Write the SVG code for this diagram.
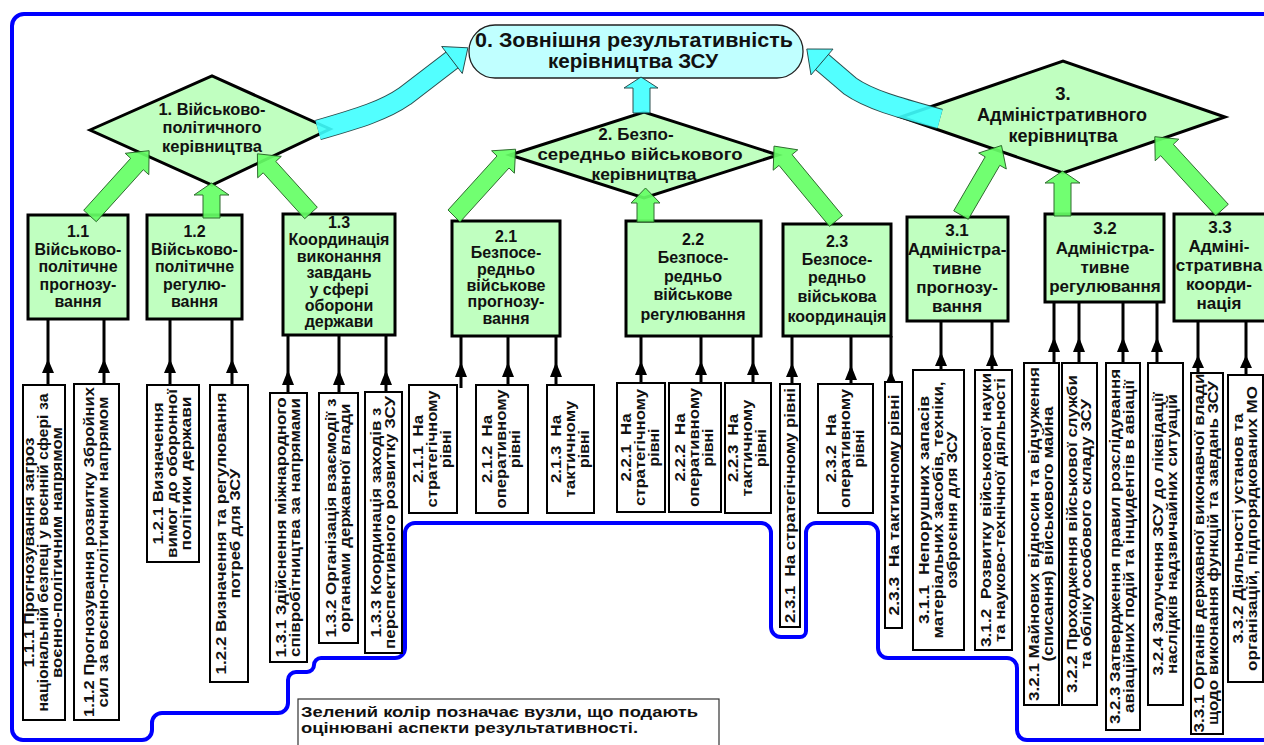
<svg xmlns="http://www.w3.org/2000/svg" width="1264" height="745" viewBox="0 0 1264 745">
<style>
text{font-family:"Liberation Sans",Arial,sans-serif;font-weight:bold;fill:#111;text-anchor:middle}
.blue{fill:none;stroke:#0000ff;stroke-width:4}
.n0{fill:#c0ffff;stroke:#222;stroke-width:1.3}
.dia{fill:#c0ffc0;stroke:#000;stroke-width:3}
.box{fill:#c0ffc0;stroke:#000;stroke-width:3}
.leaf{fill:#fff;stroke:#000;stroke-width:2}
.ln{stroke:#000;stroke-width:3}
.ah{fill:#000}
.ga{fill:#66ff66;stroke:#1f5f1f;stroke-width:1;opacity:0.92}
.ca{fill:#40ffff;stroke:#163c3c;stroke-width:1;opacity:0.9}
.cbo{fill:none;stroke:#163c3c;stroke-width:21}
.cbi{fill:none;stroke:#40ffff;stroke-width:19}
.t0{font-size:21px}
.td{font-size:17px}
.td3{font-size:18.5px}
.tb{font-size:16px}
.tb3{font-size:17px}
.lt{font-size:15px}
.lg{font-size:15.5px;text-anchor:start}
</style>

<path class="blue" d="M 1268,14 H 24 A 12 12 0 0 0 12,26 V 729 A 11 11 0 0 0 23,740 H 142 A 10 10 0 0 0 152,730 V 723 A 10 10 0 0 1 162,713 H 278 A 10 10 0 0 0 288,703 V 680 A 8 8 0 0 1 296,672 H 307 A 7 7 0 0 0 314,665 A 7 7 0 0 1 321,658 H 395 A 10 10 0 0 0 405,648 V 533 A 10 10 0 0 1 415,523 H 761 A 10 10 0 0 1 771,533 V 627 A 10 10 0 0 0 781,637 H 800 A 6 6 0 0 0 806,631 V 533 A 10 10 0 0 1 816,523 H 868 A 10 10 0 0 1 878,533 V 648 A 10 10 0 0 0 888,658 H 1007 A 10 10 0 0 1 1017,668 V 730 A 10 10 0 0 0 1027,740 H 1268"/>

<g id="connectors">
<path class="ln" d="M48,319V390M104,319V388M170,319V388M232,319V388M288,335V395M339,335V395M386,335V394M461,336V388M508,336V387M556,336V387M641,336V385M701,336V385M753,336V385M792,336V386M851,336V386M891,336V384M941,321V372M992,321V372M1054,302V365M1079,302V365M1123,302V365M1157,302V365M1198,321V375M1246,321V377"/>
<path class="ah" d="M48,359l-6,14h12zM104,359l-6,14h12zM170,359l-6,14h12zM232,359l-6,14h12zM288,370l-6,15h12zM339,370l-6,15h12zM386,370l-6,15h12zM461,362l-6,15h12zM508,362l-6,15h12zM556,362l-6,15h12zM641,361l-6,14h12zM701,361l-6,14h12zM753,361l-6,14h12zM792,363l-6,14h12zM851,365l-6,15h12zM891,371l-6,14h12zM941,352l-6,14h12zM992,352l-6,14h12zM1054,337l-6,15h12zM1079,337l-6,15h12zM1123,337l-6,15h12zM1157,337l-6,15h12zM1198,355l-6,13h12zM1246,355l-6,13h12z"/>
</g>

<g id="n111"><rect class="leaf" x="23" y="385" width="42" height="335"/>
<text class="lt" transform="translate(44,552.5) rotate(-90)" y="-10" textLength="230" lengthAdjust="spacingAndGlyphs">1.1.1 Прогнозування загроз</text>
<text class="lt" transform="translate(44,552.5) rotate(-90)" y="4" textLength="318" lengthAdjust="spacingAndGlyphs">національній безпеці у воєнній сфері за</text>
<text class="lt" transform="translate(44,552.5) rotate(-90)" y="18" textLength="251" lengthAdjust="spacingAndGlyphs">воєнно-політичним напрямом</text></g>
<g id="n112"><rect class="leaf" x="74" y="384" width="45" height="336"/>
<text class="lt" transform="translate(96.5,552) rotate(-90)" y="-3" textLength="330" lengthAdjust="spacingAndGlyphs">1.1.2 Прогнозування розвитку Збройних</text>
<text class="lt" transform="translate(96.5,552) rotate(-90)" y="11" textLength="311" lengthAdjust="spacingAndGlyphs">сил за воєнно-політичним напрямом</text></g>
<g id="n121"><rect class="leaf" x="147" y="385" width="52" height="177"/>
<text class="lt" transform="translate(173,473.5) rotate(-90)" y="-10" textLength="142" lengthAdjust="spacingAndGlyphs">1.2.1 Визначення</text>
<text class="lt" transform="translate(173,473.5) rotate(-90)" y="4" textLength="169" lengthAdjust="spacingAndGlyphs">вимог до оборонної</text>
<text class="lt" transform="translate(173,473.5) rotate(-90)" y="18" textLength="154" lengthAdjust="spacingAndGlyphs">політики держави</text></g>
<g id="n122"><rect class="leaf" x="210" y="385" width="38" height="297"/>
<text class="lt" transform="translate(229,533.5) rotate(-90)" y="-3" textLength="282" lengthAdjust="spacingAndGlyphs">1.2.2 Визначення та регулювання</text>
<text class="lt" transform="translate(229,533.5) rotate(-90)" y="11" textLength="130" lengthAdjust="spacingAndGlyphs">потреб для ЗСУ</text></g>
<g id="n131"><rect class="leaf" x="270" y="393" width="37" height="269"/>
<text class="lt" transform="translate(288.5,527.5) rotate(-90)" y="-3" textLength="260" lengthAdjust="spacingAndGlyphs">1.3.1 Здійснення міжнародного</text>
<text class="lt" transform="translate(288.5,527.5) rotate(-90)" y="11" textLength="259" lengthAdjust="spacingAndGlyphs">співробітництва за напрямами</text></g>
<g id="n132"><rect class="leaf" x="319" y="393" width="39" height="250"/>
<text class="lt" transform="translate(338.5,518) rotate(-90)" y="-3" textLength="239" lengthAdjust="spacingAndGlyphs">1.3.2 Організація взаємодії з</text>
<text class="lt" transform="translate(338.5,518) rotate(-90)" y="11" textLength="229" lengthAdjust="spacingAndGlyphs">органами державної влади</text></g>
<g id="n133"><rect class="leaf" x="365" y="392" width="37" height="261"/>
<text class="lt" transform="translate(383.5,522.5) rotate(-90)" y="-3" textLength="230" lengthAdjust="spacingAndGlyphs">1.3.3 Координація заходів з</text>
<text class="lt" transform="translate(383.5,522.5) rotate(-90)" y="11" textLength="253" lengthAdjust="spacingAndGlyphs">перспективного розвитку ЗСУ</text></g>
<g id="n211"><rect class="leaf" x="409" y="385" width="48" height="128"/>
<text class="lt" transform="translate(433,449) rotate(-90)" y="-10" textLength="68" lengthAdjust="spacingAndGlyphs">2.1.1&#160; На</text>
<text class="lt" transform="translate(433,449) rotate(-90)" y="4" textLength="117" lengthAdjust="spacingAndGlyphs">стратегічному</text>
<text class="lt" transform="translate(433,449) rotate(-90)" y="18" textLength="38" lengthAdjust="spacingAndGlyphs">рівні</text></g>
<g id="n212"><rect class="leaf" x="476" y="385" width="52" height="128"/>
<text class="lt" transform="translate(502,449) rotate(-90)" y="-10" textLength="68" lengthAdjust="spacingAndGlyphs">2.1.2&#160; На</text>
<text class="lt" transform="translate(502,449) rotate(-90)" y="4" textLength="119" lengthAdjust="spacingAndGlyphs">оперативному</text>
<text class="lt" transform="translate(502,449) rotate(-90)" y="18" textLength="38" lengthAdjust="spacingAndGlyphs">рівні</text></g>
<g id="n213"><rect class="leaf" x="547" y="385" width="47" height="128"/>
<text class="lt" transform="translate(570.5,449) rotate(-90)" y="-10" textLength="68" lengthAdjust="spacingAndGlyphs">2.1.3&#160; На</text>
<text class="lt" transform="translate(570.5,449) rotate(-90)" y="4" textLength="97" lengthAdjust="spacingAndGlyphs">тактичному</text>
<text class="lt" transform="translate(570.5,449) rotate(-90)" y="18" textLength="38" lengthAdjust="spacingAndGlyphs">рівні</text></g>
<g id="n221"><rect class="leaf" x="617" y="383" width="48" height="129"/>
<text class="lt" transform="translate(641,447.5) rotate(-90)" y="-10" textLength="68" lengthAdjust="spacingAndGlyphs">2.2.1&#160; На</text>
<text class="lt" transform="translate(641,447.5) rotate(-90)" y="4" textLength="117" lengthAdjust="spacingAndGlyphs">стратегічному</text>
<text class="lt" transform="translate(641,447.5) rotate(-90)" y="18" textLength="38" lengthAdjust="spacingAndGlyphs">рівні</text></g>
<g id="n222"><rect class="leaf" x="669" y="383" width="52" height="129"/>
<text class="lt" transform="translate(695,447.5) rotate(-90)" y="-10" textLength="68" lengthAdjust="spacingAndGlyphs">2.2.2&#160; На</text>
<text class="lt" transform="translate(695,447.5) rotate(-90)" y="4" textLength="119" lengthAdjust="spacingAndGlyphs">оперативному</text>
<text class="lt" transform="translate(695,447.5) rotate(-90)" y="18" textLength="38" lengthAdjust="spacingAndGlyphs">рівні</text></g>
<g id="n223"><rect class="leaf" x="725" y="383" width="46" height="130"/>
<text class="lt" transform="translate(748,448) rotate(-90)" y="-10" textLength="68" lengthAdjust="spacingAndGlyphs">2.2.3&#160; На</text>
<text class="lt" transform="translate(748,448) rotate(-90)" y="4" textLength="97" lengthAdjust="spacingAndGlyphs">тактичному</text>
<text class="lt" transform="translate(748,448) rotate(-90)" y="18" textLength="38" lengthAdjust="spacingAndGlyphs">рівні</text></g>
<g id="n231"><rect class="leaf" x="780" y="384" width="20" height="243"/>
<text class="lt" transform="translate(790,505.5) rotate(-90)" y="5" textLength="235" lengthAdjust="spacingAndGlyphs">2.3.1&#160; На стратегічному рівні</text></g>
<g id="n232"><rect class="leaf" x="818" y="384" width="55" height="129"/>
<text class="lt" transform="translate(845.5,448.5) rotate(-90)" y="-10" textLength="68" lengthAdjust="spacingAndGlyphs">2.3.2&#160; На</text>
<text class="lt" transform="translate(845.5,448.5) rotate(-90)" y="4" textLength="119" lengthAdjust="spacingAndGlyphs">оперативному</text>
<text class="lt" transform="translate(845.5,448.5) rotate(-90)" y="18" textLength="38" lengthAdjust="spacingAndGlyphs">рівні</text></g>
<g id="n233"><rect class="leaf" x="885" y="382" width="17" height="246"/>
<text class="lt" transform="translate(893.5,505) rotate(-90)" y="5" textLength="221" lengthAdjust="spacingAndGlyphs">2.3.3&#160; На тактичному рівні</text></g>
<g id="n311"><rect class="leaf" x="913" y="370" width="51" height="280"/>
<text class="lt" transform="translate(938.5,510) rotate(-90)" y="-10" textLength="228" lengthAdjust="spacingAndGlyphs">3.1.1&#160; Непорушних запасів</text>
<text class="lt" transform="translate(938.5,510) rotate(-90)" y="4" textLength="257" lengthAdjust="spacingAndGlyphs">матеріальних засобів, техніки,</text>
<text class="lt" transform="translate(938.5,510) rotate(-90)" y="18" textLength="157" lengthAdjust="spacingAndGlyphs">озброєння для ЗСУ</text></g>
<g id="n312"><rect class="leaf" x="975" y="370" width="37" height="280"/>
<text class="lt" transform="translate(993.5,510) rotate(-90)" y="-3" textLength="274" lengthAdjust="spacingAndGlyphs">3.1.2&#160; Розвитку військової науки</text>
<text class="lt" transform="translate(993.5,510) rotate(-90)" y="11" textLength="264" lengthAdjust="spacingAndGlyphs">та науково-технічної діяльності</text></g>
<g id="n321"><rect class="leaf" x="1024" y="363" width="35" height="342"/>
<text class="lt" transform="translate(1041.5,534) rotate(-90)" y="-3" textLength="334" lengthAdjust="spacingAndGlyphs">3.2.1 Майнових відносин та відчуження</text>
<text class="lt" transform="translate(1041.5,534) rotate(-90)" y="11" textLength="255" lengthAdjust="spacingAndGlyphs">(списання) військового майна</text></g>
<g id="n322"><rect class="leaf" x="1062" y="363" width="35" height="342"/>
<text class="lt" transform="translate(1079.5,534) rotate(-90)" y="-3" textLength="318" lengthAdjust="spacingAndGlyphs">3.2.2 Проходження військової служби</text>
<text class="lt" transform="translate(1079.5,534) rotate(-90)" y="11" textLength="270" lengthAdjust="spacingAndGlyphs">та обліку особового складу ЗСУ</text></g>
<g id="n323"><rect class="leaf" x="1106" y="363" width="34" height="367"/>
<text class="lt" transform="translate(1123,546.5) rotate(-90)" y="-3" textLength="355" lengthAdjust="spacingAndGlyphs">3.2.3 Затвердження правил розслідування</text>
<text class="lt" transform="translate(1123,546.5) rotate(-90)" y="11" textLength="333" lengthAdjust="spacingAndGlyphs">авіаційних подій та інцидентів в авіації</text></g>
<g id="n324"><rect class="leaf" x="1148" y="363" width="35" height="342"/>
<text class="lt" transform="translate(1165.5,534) rotate(-90)" y="-3" textLength="283" lengthAdjust="spacingAndGlyphs">3.2.4 Залучення ЗСУ до ліквідації</text>
<text class="lt" transform="translate(1165.5,534) rotate(-90)" y="11" textLength="280" lengthAdjust="spacingAndGlyphs">наслідків надзвичайних ситуацій</text></g>
<g id="n331"><rect class="leaf" x="1191" y="373" width="32" height="361"/>
<text class="lt" transform="translate(1207,553) rotate(-90)" y="-3" textLength="359" lengthAdjust="spacingAndGlyphs">3.3.1 Органів державної виконавчої влади</text>
<text class="lt" transform="translate(1207,553) rotate(-90)" y="11" textLength="344" lengthAdjust="spacingAndGlyphs">щодо виконання функцій та завдань ЗСУ</text></g>
<g id="n332"><rect class="leaf" x="1228" y="375" width="35" height="307"/>
<text class="lt" transform="translate(1245.5,528.5) rotate(-90)" y="-3" textLength="230" lengthAdjust="spacingAndGlyphs">3.3.2 Діяльності установ та</text>
<text class="lt" transform="translate(1245.5,528.5) rotate(-90)" y="11" textLength="285" lengthAdjust="spacingAndGlyphs">організацій, підпорядкованих МО</text></g>

<g id="n11"><rect class="box" x="28" y="215" width="100" height="104"/><text class="tb"><tspan x="78" y="237">1.1</tspan><tspan x="78" y="255">Військово-</tspan><tspan x="78" y="272">політичне</tspan><tspan x="78" y="290">прогнозу-</tspan><tspan x="78" y="307">вання</tspan></text></g>
<g id="n12"><rect class="box" x="147" y="215" width="95" height="104"/><text class="tb"><tspan x="194.5" y="237">1.2</tspan><tspan x="194.5" y="255">Військово-</tspan><tspan x="194.5" y="272">політичне</tspan><tspan x="194.5" y="290">регулю-</tspan><tspan x="194.5" y="307">вання</tspan></text></g>
<g id="n13"><rect class="box" x="283" y="214" width="112" height="121"/><text class="tb"><tspan x="339" y="228">1.3</tspan><tspan x="339" y="245">Координація</tspan><tspan x="339" y="262">виконання</tspan><tspan x="339" y="278">завдань</tspan><tspan x="339" y="295">у сфері</tspan><tspan x="339" y="311">оборони</tspan><tspan x="339" y="327">держави</tspan></text></g>
<g id="n21"><rect class="box" x="452" y="221" width="108" height="115"/><text class="tb"><tspan x="506" y="242">2.1</tspan><tspan x="506" y="258">Безпосе-</tspan><tspan x="506" y="275">редньо</tspan><tspan x="506" y="291">військове</tspan><tspan x="506" y="307">прогнозу-</tspan><tspan x="506" y="324">вання</tspan></text></g>
<g id="n22"><rect class="box" x="626" y="221" width="135" height="115"/><text class="tb"><tspan x="693" y="245">2.2</tspan><tspan x="693" y="263">Безпосе-</tspan><tspan x="693" y="282">редньо</tspan><tspan x="693" y="300">військове</tspan><tspan x="693" y="320">регулювання</tspan></text></g>
<g id="n23"><rect class="box" x="783" y="224" width="108" height="112"/><text class="tb"><tspan x="837" y="247">2.3</tspan><tspan x="837" y="265">Безпосе-</tspan><tspan x="837" y="283">редньо</tspan><tspan x="837" y="302">військова</tspan><tspan x="837" y="322">координація</tspan></text></g>
<g id="n31"><rect class="box" x="907" y="217" width="101" height="104"/><text class="tb3"><tspan x="957" y="236">3.1</tspan><tspan x="957" y="255">Адміністра-</tspan><tspan x="957" y="274">тивне</tspan><tspan x="957" y="293">прогнозу-</tspan><tspan x="957" y="312">вання</tspan></text></g>
<g id="n32"><rect class="box" x="1045" y="214" width="119" height="88"/><text class="tb3"><tspan x="1105" y="234">3.2</tspan><tspan x="1105" y="254">Адміністра-</tspan><tspan x="1105" y="273">тивне</tspan><tspan x="1105" y="292">регулювання</tspan></text></g>
<g id="n33"><rect class="box" x="1174" y="214" width="115" height="107"/><text class="tb3"><tspan x="1220" y="233">3.3</tspan><tspan x="1219" y="252">Адміні-</tspan><tspan x="1219" y="271">стративна</tspan><tspan x="1219" y="290">коорди-</tspan><tspan x="1219" y="309">нація</tspan></text></g>

<g id="n1"><polygon class="dia" points="90,130 212,76 330,129 212,185"/>
<text class="td" x="212" y="115" textLength="107" lengthAdjust="spacingAndGlyphs">1. Військово-</text>
<text class="td" x="212" y="133" textLength="99" lengthAdjust="spacingAndGlyphs">політичного</text>
<text class="td" x="212" y="152" textLength="100" lengthAdjust="spacingAndGlyphs">керівництва</text></g>
<g id="n2"><polygon class="dia" points="510,155 644,112 778,155 644,198"/>
<text class="td" x="636" y="140">2. Безпо-</text>
<text class="td" x="640" y="160" textLength="205" lengthAdjust="spacingAndGlyphs">середньо військового</text>
<text class="td" x="644" y="180" textLength="105" lengthAdjust="spacingAndGlyphs">керівництва</text></g>
<g id="n3"><polygon class="dia" points="901,117 1063,61 1225,117 1063,173"/>
<text class="td3" x="1063" y="100">3.</text>
<text class="td3" x="1062" y="121" textLength="170" lengthAdjust="spacingAndGlyphs">Адміністративного</text>
<text class="td3" x="1063" y="142" textLength="109" lengthAdjust="spacingAndGlyphs">керівництва</text></g>

<g id="n0"><rect class="n0" x="469" y="25" width="334" height="53" rx="26" ry="26"/>
<text class="t0" x="634" y="47" textLength="318" lengthAdjust="spacingAndGlyphs">0. Зовнішня результативність</text>
<text class="t0" x="633" y="68" textLength="170" lengthAdjust="spacingAndGlyphs">керівництва ЗСУ</text></g>

<g id="flow-arrows">
<polygon class="ga" points="96.3,221.7 143.3,169.7 148.8,174.7 149.1,150.7 125.2,153.3 130.7,158.3 83.7,210.3"/>
<polygon class="ga" points="203,218 203,195 194,195 211.5,183 229,195 220,195 220,218"/>
<polygon class="ga" points="317.3,207.3 275.8,161.4 281.3,156.4 257.4,153.8 257.7,177.8 263.2,172.8 304.7,218.7"/>
<polygon class="ga" points="460,222 509,168 514.4,173.2 515.6,149.2 491.6,150.8 497,156 448,210"/>
<polygon class="ga" points="637,222 637,203 631,203 645.5,188 660,203 654,203 654,222"/>
<polygon class="ga" points="842.5,215.6 792,154.6 797.8,149.8 774,146.1 773.2,170.2 779,165.4 829.5,226.4"/>
<polygon class="ga" points="968.3,219.3 999.8,165.3 1006.3,169 1001.5,145.5 978.7,153 985.2,156.8 953.7,210.8"/>
<polygon class="ga" points="1054,216 1054,183 1045,183 1062.5,171 1080,183 1071,183 1071,216"/>
<polygon class="ga" points="1228.3,204.3 1173.3,144.3 1178.8,139.2 1154.8,136.7 1155.2,160.8 1160.7,155.7 1215.7,215.7"/>
<polygon class="ca" points="633,113 633,88 624,88 641,77 658,88 650,88 650,113"/>
<g opacity="0.9">
<path class="cbo" d="M 318,130 C 360,118 385,110 405,96 L 452,60"/>
<path class="cbi" d="M 318,130 C 360,118 385,110 405,96 L 452,60"/>
<path class="cbo" d="M 940,119 C 900,108 870,100 850,86 L 822,62"/>
<path class="cbi" d="M 940,119 C 900,108 870,100 850,86 L 822,62"/>
</g>
<polygon class="ca" points="462.3,73.5 467.9,47.8 441.7,46.5"/>
<polygon class="ca" points="833,49.1 806.8,49 811,74.9"/>
</g>

<g id="legend"><rect x="298" y="699" width="421" height="52" fill="#fff" stroke="#333" stroke-width="1.2"/>
<text class="lg" x="301" y="717" textLength="397" lengthAdjust="spacingAndGlyphs">Зелений колір позначає вузли, що подають</text>
<text class="lg" x="301" y="733" textLength="337" lengthAdjust="spacingAndGlyphs">оцінювані аспекти результативності.</text></g>
</svg>
